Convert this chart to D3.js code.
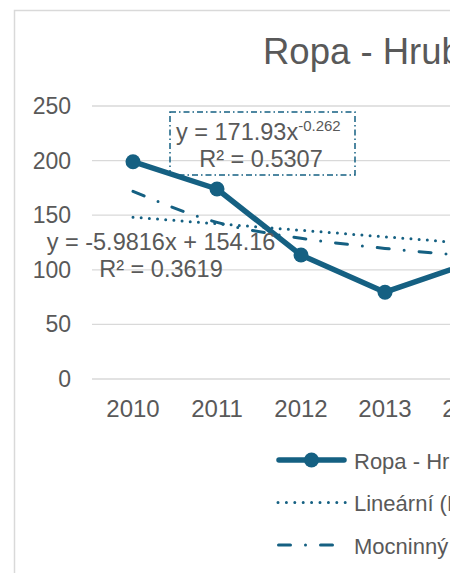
<!DOCTYPE html>
<html><head><meta charset="utf-8">
<script src="https://cdn.jsdelivr.net/npm/d3@7"></script>
<style>html,body{margin:0;padding:0;background:#fff;}svg{display:block;overflow:hidden;font-family:"Liberation Sans",Arial,sans-serif;}</style>
</head><body>
<script>
const categories = ["2010","2011","2012","2013","2014"];
const values = [199, 174, 113.5, 79.5, 106];
const linearTrend = [148.2, 142.2, 136.2, 130.2, 124.2];
const powerTrend = [171.9, 143.4, 128.9, 119.6, 112.8];
const yTicks = [0, 50, 100, 150, 200, 250];
const titleText = "Ropa - Hrubá";
const seriesName = "Ropa - Hrubá";
const legendLabels = [seriesName, "Lineární (" + seriesName + ")", "Mocninný (" + seriesName + ")"];
const linearEq = ["y = -5.9816x + 154.16", "R² = 0.3619"];
const powerEq = ["y = 171.93x", "-0.262", "R² = 0.5307"];

const blue = "#156082", textCol = "#595959", grid = "#d9d9d9";
const W = 450, H = 573;
const svg = d3.select("body").append("svg").attr("width", W).attr("height", H);

// chart border
svg.append("rect").attr("x", 14.5).attr("y", 10.5).attr("width", 600).attr("height", 700)
  .attr("fill", "#fff").attr("stroke", grid).attr("stroke-width", 1.5);

const x = d3.scalePoint().domain(categories).range([133, 469]);
const y = d3.scaleLinear().domain([0, 250]).range([379, 106]);

// title
svg.append("text").attr("x", 263).attr("y", 64).attr("fill", textCol)
  .attr("font-size", 36.5).text(titleText);

// gridlines
svg.append("g").selectAll("line").data(yTicks).join("line")
  .attr("x1", 92).attr("x2", 600).attr("y1", d => y(d)).attr("y2", d => y(d))
  .attr("stroke", grid).attr("stroke-width", 1.3);

// y labels
svg.append("g").selectAll("text").data(yTicks).join("text")
  .attr("x", 71).attr("y", d => y(d) + 8).attr("text-anchor", "end")
  .attr("fill", textCol).attr("font-size", 23).text(d => d);

// x labels
svg.append("g").selectAll("text").data(categories).join("text")
  .attr("x", d => x(d)).attr("y", 417).attr("text-anchor", "middle")
  .attr("fill", textCol).attr("font-size", 24).text(d => d);

const line = d3.line().x((d, i) => x(categories[i])).y(d => y(d));

// linear trend (dotted)
svg.append("path").attr("d", line(linearTrend)).attr("fill", "none").attr("stroke", blue)
  .attr("stroke-width", 3).attr("stroke-linecap", "round").attr("stroke-dasharray", "0,8.2");
// power trend (long dash dot)
svg.append("path").attr("d", d3.line().curve(d3.curveMonotoneX).x((d, i) => x(categories[i])).y(d => y(d))(powerTrend))
  .attr("fill", "none").attr("stroke", blue)
  .attr("stroke-width", 3).attr("stroke-linecap", "round").attr("stroke-dasharray", "12,15,0,15");

// main series
svg.append("path").attr("d", line(values)).attr("fill", "none").attr("stroke", blue)
  .attr("stroke-width", 5.5).attr("stroke-linejoin", "round").attr("stroke-linecap", "round");
svg.append("g").selectAll("circle").data(values).join("circle")
  .attr("cx", (d, i) => x(categories[i])).attr("cy", d => y(d)).attr("r", 7.5).attr("fill", blue);

// linear equation label
const lin = svg.append("text").attr("fill", textCol).attr("font-size", 23.5).attr("text-anchor", "middle");
lin.append("tspan").attr("x", 161).attr("y", 250).text(linearEq[0]);
lin.append("tspan").attr("x", 161).attr("y", 277).text(linearEq[1]);

// power equation label with box
svg.append("rect").attr("x", 170).attr("y", 112).attr("width", 185).attr("height", 63)
  .attr("fill", "none").attr("stroke", blue).attr("stroke-width", 1.5)
  .attr("stroke-dasharray", "6,3,1.5,3");
const pw = svg.append("text").attr("fill", textCol).attr("font-size", 23.5).attr("text-anchor", "start");
pw.append("tspan").attr("x", 176).attr("y", 140).text(powerEq[0]);
pw.append("tspan").attr("dy", -9).attr("font-size", 15).text(powerEq[1]);
svg.append("text").attr("fill", textCol).attr("font-size", 23.5).attr("text-anchor", "middle")
  .attr("x", 261).attr("y", 167).text(powerEq[2]);

// legend
const legY = [460, 502.5, 545];
const lg = svg.append("g");
lg.append("line").attr("x1", 279).attr("x2", 344).attr("y1", legY[0]).attr("y2", legY[0])
  .attr("stroke", blue).attr("stroke-width", 5.5).attr("stroke-linecap", "round");
lg.append("circle").attr("cx", 311.5).attr("cy", legY[0]).attr("r", 7.5).attr("fill", blue);
lg.append("line").attr("x1", 278).attr("x2", 346).attr("y1", legY[1]).attr("y2", legY[1])
  .attr("stroke", blue).attr("stroke-width", 3).attr("stroke-linecap", "round").attr("stroke-dasharray", "0,8.4");
lg.append("line").attr("x1", 278.5).attr("x2", 346).attr("y1", legY[2]).attr("y2", legY[2])
  .attr("stroke", blue).attr("stroke-width", 3).attr("stroke-linecap", "round").attr("stroke-dasharray", "12,15,0,15");
lg.selectAll("text").data(legendLabels).join("text")
  .attr("x", 354).attr("y", (d, i) => legY[i] + 8.5).attr("fill", textCol).attr("font-size", 22).text(d => d);
</script>
</body></html>
